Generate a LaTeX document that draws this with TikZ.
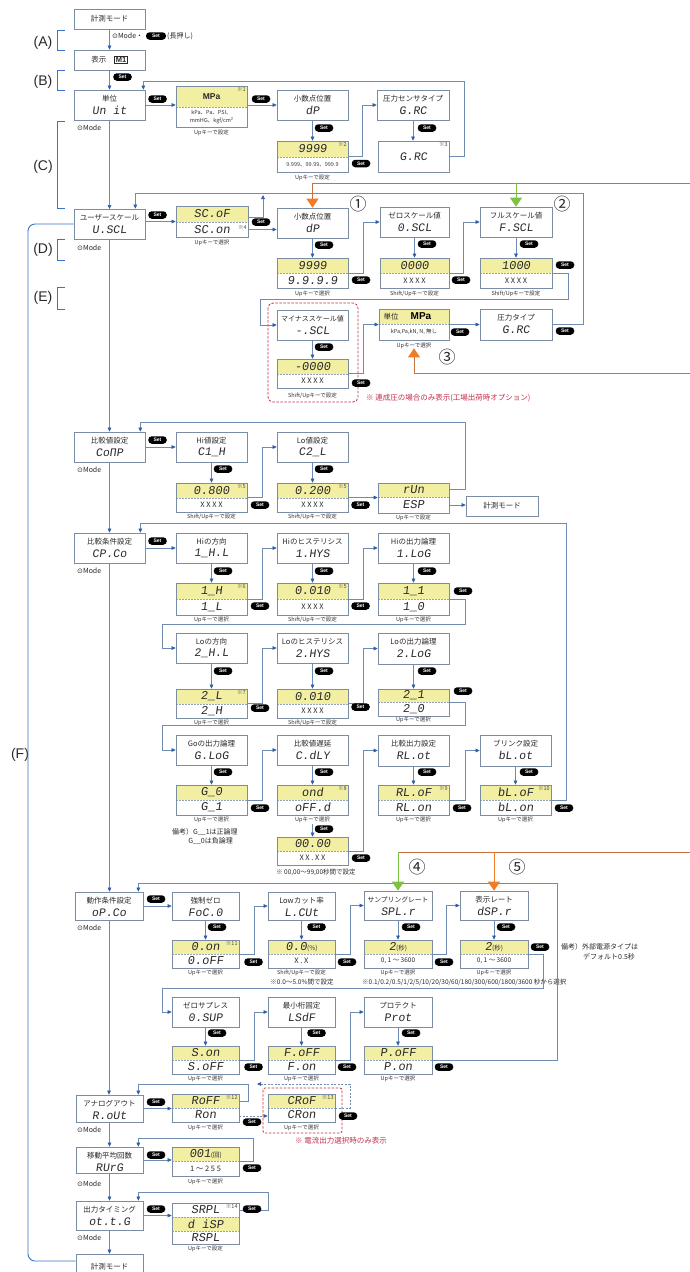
\documentclass[tikz,border=0pt]{standalone}
\usepackage{fontspec}
\setmainfont{Noto Sans CJK JP}
\newfontfamily\segf[FakeSlant=0.14]{Liberation Mono}
\newfontfamily\djv{DejaVu Sans}
\newfontfamily\lib{Liberation Sans}
\usetikzlibrary{arrows.meta,calc}
\definecolor{frm}{HTML}{7A8DA2}
\definecolor{lc}{HTML}{6F8CB0}
\definecolor{ac}{HTML}{2E5EA8}
\definecolor{yel}{HTML}{F3EFA2}
\definecolor{fb}{HTML}{3B72C8}
\definecolor{org}{HTML}{F07C28}
\definecolor{orl}{HTML}{C47245}
\definecolor{grn}{HTML}{7DC242}
\definecolor{rd}{HTML}{C2304A}
\definecolor{tx}{HTML}{2A2A2A}
\newcounter{nn}
\tikzset{
 bfr/.style={draw=frm,line width=0.7pt,inner sep=0pt,rectangle},
 ttl/.style={inner sep=0pt,text=tx,font=\fontsize{7.5}{7.5}\selectfont},
 txtsev/.style={inner sep=0pt,text=tx,font=\fontsize{7.5}{7.5}\selectfont},
 segt/.style={inner sep=0pt,text=tx,font=\segf\fontsize{11.5}{11.5}\selectfont},
 segv/.style={inner sep=0pt,text=tx,font=\segf\fontsize{12}{12}\selectfont},
 notet/.style={inner sep=1.2pt,text=black!70,font=\fontsize{5.5}{5.5}\selectfont},
 ln/.style={draw=lc,line width=0.6pt},
 arr/.style={ln,-{Triangle[length=4pt,width=3.6pt,color=ac]}},
 arrd/.style={arr,dashed,dash pattern=on 2pt off 1.5pt},
 sepl/.style={draw=frm!80,dash pattern=on 2pt off 1pt,line width=0.5pt},
 setpill/.style={fill=black,rounded corners=3.5pt,minimum width=18.5pt,minimum height=7.5pt,inner sep=0pt,text=white,font=\lib\bfseries\fontsize{5}{5}\selectfont},
 uplab/.style={inner sep=0pt,text=black!80,font=\fontsize{5.5}{5.5}\selectfont},
 smtxt/.style={inner sep=0pt,text=tx,font=\fontsize{6.5}{6.5}\selectfont},
 modet/.style={inner sep=0pt,text=tx,font=\fontsize{7}{7}\selectfont},
 bikou/.style={inner sep=0pt,text=tx,font=\fontsize{7}{9}\selectfont},
 brk/.style={draw=fb,line width=0.8pt},
 lett/.style={inner sep=0pt,text=tx,font=\lib\fontsize{14}{14}\selectfont},
 circn/.style={inner sep=0pt,text=tx,font=\fontsize{17}{17}\selectfont},
 oline/.style={draw=orl,line width=1pt},
 otip/.style={-{Triangle[length=9pt,width=12pt,color=org]}},
 gtip/.style={draw=grn,line width=1pt,-{Triangle[length=9pt,width=12pt,color=grn]}},
 reddash/.style={draw=rd,dash pattern=on 2.5pt off 1.5pt,line width=0.8pt,rounded corners=5pt},
 redtxt/.style={inner sep=0pt,text=rd,font=\fontsize{7.5}{7.5}\selectfont},
 fline/.style={draw=fb,line width=0.9pt}
}
\newcommand\xx[1]{{\normalfont\fontsize{7.5}{7.5}\selectfont #1}}
\newcommand\sm[1]{{\normalfont\fontsize{6.5}{6.5}\selectfont #1}}
\newcommand\lbx[7]{%
 \node[bfr,minimum width=#4-#2,minimum height=#5-#3] (#1) at ({(#2+#4)/2},{(#3+#5)/2}) {};
 \node[ttl] (#1t) at ({(#2+#4)/2},{#3+8.5}) {#6};
 \node[segt] (#1c) at ({(#2+#4)/2},{#3+20.5}) {#7};}
\newcommand\sbx[6]{\node[bfr,txtsev,minimum width=#4-#2,minimum height=#5-#3] (#1) at ({(#2+#4)/2},{(#3+#5)/2}) {#6};}
\newcommand\valbox[9]{%
 \fill[yel] (#2,#3) rectangle (#4,#5);
 \draw[sepl] (#2,#5) -- (#4,#5);
 \node[bfr,minimum width=#4-#2,minimum height=#6-#3] (#1) at ({(#2+#4)/2},{(#3+#6)/2}) {};
 \node[segv] (#1t) at ({(#2+#4)/2},{(#3+#5)/2}) {#7};
 \node[segv] (#1b) at ({(#2+#4)/2},{(#5+#6)/2}) {#8};
 \node[notet,anchor=north east] (#1n) at (#4,#3) {#9};}
\newcommand\setp[2]{\stepcounter{nn}\node[setpill] (sp\thenn) at (#1,#2) {Set};}
\newcommand\lab[3]{\stepcounter{nn}\node[uplab] (lb\thenn) at (#1,#2) {#3};}
\newcommand\modl[2]{\stepcounter{nn}\node[modet,anchor=west] (md\thenn) at (#1,#2) {{\djv ⊙}Mode};}
\begin{document}
\begin{tikzpicture}[x=1pt,y=-1pt]
\useasboundingbox[fill=white] (0,0) rectangle (690,1272);
% ---------- labels A-F
\node[lett] (lA) at (43,43) {(A)}; \draw[brk] (65,30) -- (57,30) -- (57,50) -- (65,50);
\node[lett] (lB) at (43,82) {(B)}; \draw[brk] (65,70) -- (57,70) -- (57,90) -- (65,90);
\node[lett] (lC) at (43,167) {(C)}; \draw[brk] (65,121) -- (57,121) -- (57,208) -- (65,208);
\node[lett] (lD) at (43,250) {(D)}; \draw[brk] (65,239) -- (57,239) -- (57,260) -- (65,260);
\node[lett] (lE) at (43,298) {(E)}; \draw[brk] (65,287) -- (57,287) -- (57,309) -- (65,309);
\node[lett] (lF) at (20,755) {(F)};
% ---------- section 1
\sbx{mode0}{74}{9}{145}{29}{計測モード}
\sbx{disp}{74}{50}{145}{70}{表示\hspace{8pt}{\fboxsep=0.8pt\fboxrule=0.7pt\fbox{\lib\bfseries M1}}}
\lbx{unit}{74}{90}{145}{120}{単位}{Un it}
\valbox{mpa}{176}{86}{247}{107}{127}{{\lib\bfseries\fontsize{8.5}{8.5}\selectfont MPa}}{}{※1}
\node[uplab,align=center,font=\fontsize{5.5}{8}\selectfont] (mpalist) at (211.5,117) {kPa、Pa、PSI、\\mmHG、kgf/cm²};
\lab{211.5}{132.5}{Upキーで設定}
\lbx{dp1}{277}{90}{348}{120}{小数点位置}{dP}
\valbox{dnine}{277}{141}{348}{157}{172}{9999}{}{※2}
\node[uplab] (dninelist) at (312.5,165) {9.999、99.99、999.9};
\lab{312.5}{178}{Upキーで設定}
\lbx{gac1}{377}{90}{449}{120}{圧力センサタイプ}{G.RC}
\node[bfr,segt,minimum width=71,minimum height=31] (gac2) at (413.5,156.5) {G.RC};
\node[notet,anchor=north east] (gac2n) at (449,141) {※3};
\node[modet,anchor=west] (modeA) at (112,36) {{\djv ⊙}Mode・};
\node[setpill,minimum width=20pt] (setA) at (156,36) {Set};
\node[modet,anchor=west] (nagA) at (167,36) {(長押し)};
\draw[arr] (mode0.south) -- (disp.north);
\draw[arr] (disp.south) -- (unit.north); \setp{122.5}{77}
\draw[arr] (unit.east) -- (unit.east -| mpa.west); \setp{157.5}{99}
\draw[arr] (mpa.east |- dp1.west) -- (dp1.west); \setp{261}{99}
\draw[arr] (dp1.south) -- (dnine.north); \setp{324}{128}
\draw[arr] (dnine.east) -- ++(14,0) |- (gac1.west); \setp{361}{163.5}
\draw[arr] (gac1.south) -- (gac1.south |- gac2.north); \setp{427}{128}
\draw[arr] (gac2.east) -| (464,81) -| ([xshift=-2pt]unit.north east);
\draw[arr] (unit.south) -- (unit.south |- 0,209); \modl{77}{128}
% ---------- section 2
\lbx{uscl}{74}{209}{145}{239}{ユーザースケール}{U.SCL}
\valbox{scof}{176}{206}{248}{222}{237}{SC.oF}{SC.on\hspace{10pt}}{}
\node[notet,anchor=east] (scof4) at (248,227) {※4};
\lab{212}{243}{Upキーで選択}
\lbx{dp2}{277}{208}{348}{238}{小数点位置}{dP}
\valbox{dtwo}{277}{258}{348}{273}{288}{9999}{9.9.9.9}{}
\lab{312.5}{294}{Upキーで選択}
\lbx{zscl}{380}{207}{449}{237}{ゼロスケール値}{0.SCL}
\valbox{zzero}{380}{258}{449}{273}{288}{0000}{\xx{X X X X}}{}
\lab{414.5}{294}{Shift/Upキーで設定}
\lbx{fscl}{480}{207}{552}{237}{フルスケール値}{F.SCL}
\valbox{fthou}{480}{258}{552}{273}{288}{1000}{\xx{X X X X}}{}
\lab{516}{294}{Shift/Upキーで設定}
\lbx{mscl}{277}{310}{348}{340}{{\fontsize{7}{7}\selectfont マイナススケール値}}{-.SCL}
\valbox{mzero}{277}{359}{348}{374}{388}{-0000}{\xx{X X X X}}{}
\lab{312.5}{396}{Shift/Upキーで設定}
\valbox{sunit}{379}{309}{449}{324}{340}{}{}{}
\node[ttl] (sunitA) at (391,316.5) {単位};
\node[inner sep=0pt,font=\lib\bfseries\fontsize{10}{10}\selectfont] (sunitB) at (421,316.5) {MPa};
\node[uplab] (sunitC) at (414,332) {kPa,Pa,kN, N, 無し};
\lab{414}{345.5}{Upキーで選択}
\lbx{atype}{480}{309}{552}{340}{圧力タイプ}{G.RC}
\draw[reddash] (268,303) rectangle (358,402);
\node[redtxt,anchor=west] (rednote1) at (366,398.5) {※ 連成圧の場合のみ表示(工場出荷時オプション)};
\draw[arr] (scof.west -| uscl.east) -- (scof.west); \setp{157.5}{215}
\draw[arr] ([yshift=4pt]scof.east) -| (263,195);
\draw[arr] ([yshift=-8pt]scof.east) -- ([yshift=-8pt]scof.east -| dp2.west); \setp{261}{222}
\draw[arr] (dp2.south) -- (dtwo.north); \setp{324}{245}
\draw[arr] (dtwo.east) -- ++(15,0) |- (zscl.west); \setp{361}{280}
\draw[arr] (zscl.south) -- (zzero.north); \setp{427}{244}
\draw[arr] (zzero.east) -- ++(14,0) |- (fscl.west); \setp{461}{280}
\draw[arr] (fscl.south) -- (fthou.north); \setp{529}{244}
\draw[arr] (fthou.east) -| (568,299) -| (260,325) -- (mscl.west); \setp{565}{265}
\draw[arr] (mscl.south) -- (mzero.north); \setp{324}{347}
\draw[arr] (mzero.east) -- ++(15,0) |- (sunit.west); \setp{361}{383}
\draw[arr] (sunit.east) -- (sunit.east -| atype.west); \setp{460}{332}
\draw[arr] (atype.east) -| (583,193) -| ([xshift=-10pt]uscl.north east); \setp{565}{331}
\coordinate (oA) at (690,183);
\draw[oline,otip] (oA) -| (dp2.north);
\draw[gtip] (fscl.north |- oA) -- (fscl.north);
\node[circn] (c1) at (358,204) {①};
\node[circn] (c2) at (562,204) {②};
\coordinate (oB) at (690,373);
\draw[oline,otip] (oB) -| ([yshift=-8pt]sunit.south);
\node[circn] (c3) at (447,357) {③};
\modl{77}{248}
% ---------- section 3
\lbx{comp}{74}{432}{145}{462}{比較値設定}{CoΠP}
\lbx{hi}{176}{432}{247}{462}{Hi値設定}{C1\_H}
\valbox{hiv}{176}{483}{247}{498}{512}{0.800}{\xx{X X X X}}{※5}
\lab{211.5}{517}{Shift/Upキーで設定}
\lbx{lo}{277}{432}{348}{462}{Lo値設定}{C2\_L}
\valbox{lov}{277}{483}{348}{498}{512}{0.200}{\xx{X X X X}}{※5}
\lab{312.5}{517}{Shift/Upキーで設定}
\valbox{run}{378}{483}{449}{497}{513}{rUn}{ESP}{}
\lab{413.5}{518}{Upキーで設定}
\sbx{mode1}{466}{496}{538}{516}{計測モード}
\draw[arr] (uscl.south) -- (uscl.south |- comp.north);
\draw[arr] (comp.east) -- (hi.west); \setp{157.5}{440}
\draw[arr] (hi.south) -- (hiv.north); \setp{223}{469}
\draw[arr] (hiv.east) -- ++(15,0) |- (lo.west); \setp{260}{505}
\draw[arr] (lo.south) -- (lov.north); \setp{324}{469}
\draw[arr] (lov.east) -- (lov.east -| run.west); \setp{360.5}{505}
\draw[arr] ([yshift=9pt]run.east) -| (465,422) -| ([xshift=-5pt]comp.north east);
\draw[arr] ([yshift=-7pt]run.east) -- ([yshift=-7pt]run.east -| mode1.west);
\modl{77}{470}
% ---------- section 4
\lbx{cpco}{74}{533}{145}{563}{比較条件設定}{CP.Co}
\lbx{hd}{176}{533}{247}{563}{Hiの方向}{1\_H.L}
\valbox{hdv}{176}{583}{247}{599}{615}{1\_H}{1\_L}{※6}
\lab{211.5}{620}{Upキーで選択}
\lbx{hh}{277}{533}{348}{563}{Hiのヒステリシス}{1.HYS}
\valbox{hhv}{277}{583}{348}{599}{615}{0.010}{\xx{X X X X}}{※5}
\lab{312.5}{620}{Shift/Upキーで設定}
\lbx{hl}{378}{533}{449}{563}{Hiの出力論理}{1.LoG}
\valbox{hlv}{378}{583}{449}{599}{615}{1\_1}{1\_0}{}
\lab{413.5}{620}{Upキーで選択}
\lbx{ld}{176}{633}{247}{663}{Loの方向}{2\_H.L}
\valbox{ldv}{176}{689}{247}{704}{718}{2\_L}{2\_H}{※7}
\lab{211.5}{723}{Upキーで選択}
\lbx{lh}{277}{633}{348}{663}{Loのヒステリシス}{2.HYS}
\valbox{lhv}{277}{689}{348}{704}{718}{0.010}{\xx{X X X X}}{}
\lab{312.5}{723}{Shift/Upキーで設定}
\lbx{ll}{378}{633}{449}{664}{Loの出力論理}{2.LoG}
\valbox{llv}{378}{689}{449}{702}{716}{2\_1}{2\_0}{}
\lab{413.5}{720}{Upキーで選択}
\lbx{gl}{176}{735}{247}{765}{Goの出力論理}{G.LoG}
\valbox{glv}{176}{785}{247}{800}{815}{G\_0}{G\_1}{}
\lab{211.5}{820}{Upキーで選択}
\lbx{cd}{277}{735}{348}{765}{比較値遅延}{C.dLY}
\valbox{cdv}{277}{785}{348}{800}{815}{ond}{oFF.d}{※8}
\lab{312.5}{820}{Upキーで選択}
\valbox{cdtime}{277}{837}{348}{851}{865}{00.00}{\xx{X X . X X}}{}
\node[smtxt,anchor=west] (cdtnote) at (276,872) {※ 00,00〜99,00秒間で設定};
\lbx{al}{378}{735}{449}{766}{比較出力設定}{RL.ot}
\valbox{alv}{378}{785}{449}{800}{815}{RL.oF}{RL.on}{※9}
\lab{413.5}{820}{Upキーで選択}
\lbx{bl}{480}{735}{551}{766}{ブリンク設定}{bL.ot}
\valbox{blv}{480}{785}{551}{800}{815}{bL.oF}{bL.on}{※10}
\lab{515.5}{820}{Upキーで選択}
\node[bikou,anchor=north west,align=left] (bk1) at (172,828) {備考）G\_\_1は正論理\\\hspace{2.3em}G\_\_0は負論理};
\draw[arr] (comp.south) -- (comp.south |- cpco.north);
\draw[arr] (cpco.east) -- (hd.west); \setp{157.5}{541}
\draw[arr] (hd.south) -- (hdv.north); \setp{223}{571}
\draw[arr] (hdv.east) -- ++(15,0) |- (hh.west); \setp{260}{606}
\draw[arr] (hh.south) -- (hhv.north); \setp{324}{571}
\draw[arr] (hhv.east) -- ++(15,0) |- (hl.west); \setp{360.5}{606}
\draw[arr] (hl.south) -- (hlv.north); \setp{427}{571}
\draw[arr] (hlv.east) -| (465,624) -| (162,648) -- (ld.west); \setp{463}{591}
\draw[arr] (ld.south) -- (ldv.north); \setp{223}{671}
\draw[arr] (ldv.east) -- ++(15,0) |- (lh.west); \setp{260}{708}
\draw[arr] (lh.south) -- (lhv.north); \setp{324}{671}
\draw[arr] (lhv.east) -- ++(15,0) |- (ll.west); \setp{360.5}{707}
\draw[arr] (ll.south) -- (llv.north); \setp{427}{671}
\draw[arr] (llv.east) -| (465,725) -| (162,750) -- (gl.west); \setp{463}{691}
\draw[arr] (gl.south) -- (glv.north); \setp{223}{772}
\draw[arr] (glv.east) -- ++(15,0) |- (cd.west); \setp{260}{808}
\draw[arr] (cd.south) -- (cdv.north); \setp{324}{772}
\draw[arr] ([yshift=-9pt]cdv.south) -- (cdtime.north); \setp{324}{829}
\draw[arr] (cdtime.east) -- ++(15,0) |- (al.west); \setp{361}{858}
\draw[arr] (al.south) -- (alv.north); \setp{427}{772}
\draw[arr] (alv.east) -- ++(16,0) |- (bl.west); \setp{462}{808}
\draw[arr] (bl.south) -- (blv.north); \setp{529}{772}
\draw[arr] (blv.east) -| (566,523) -| ([xshift=-5pt]cpco.north east); \setp{564}{808}
\modl{77}{571}
% ---------- section 5
\lbx{opco}{75}{892}{143}{920}{動作条件設定}{oP.Co}
\lbx{foc}{172}{892}{239}{920}{強制ゼロ}{FoC.0}
\valbox{focv}{172}{940}{239}{954}{968}{0.on}{0.oFF}{※11}
\lab{205.5}{973}{Upキーで選択}
\lbx{lcut}{268}{892}{335}{920}{Lowカット率}{L.CUt}
\valbox{lcutv}{268}{940}{335}{954}{968}{0.0\sm{(\%)}}{\xx{X . X}}{}
\lab{301.5}{973}{Shift/Upキーで設定}
\node[smtxt] (lcutnote) at (302,982) {※0.0〜5.0\%間で設定};
\lbx{spl}{364}{891}{432}{920}{{\fontsize{6.8}{6.8}\selectfont サンプリングレート}}{SPL.r}
\valbox{splv}{364}{940}{432}{954}{968}{2\sm{(秒)}}{\sm{0, 1 〜 3600}}{}
\lab{398}{973}{Upキーで選択}
\lbx{dsp}{460}{891}{528}{920}{表示レート}{dSP.r}
\valbox{dspv}{460}{940}{528}{954}{968}{2\sm{(秒)}}{\sm{0, 1 〜 3600}}{}
\lab{494}{973}{Upキーで選択}
\node[bikou,anchor=west] (bk2) at (561,947) {備考）外部電源タイプは};
\node[bikou,anchor=west] (bk3) at (583,957) {デフォルト0.5秒};
\node[smtxt,anchor=west] (splnote) at (362,982.5) {※0.1/0.2/0.5/1/2/5/10/20/30/60/180/300/600/1800/3600 秒から選択};
\lbx{zsup}{172}{997}{239}{1027}{ゼロサプレス}{0.SUP}
\valbox{zsupv}{172}{1046}{239}{1060}{1074}{S.on}{S.oFF}{}
\lab{205.5}{1079}{Upキーで選択}
\lbx{lsdf}{268}{997}{335}{1027}{最小桁固定}{LSdF}
\valbox{lsdfv}{268}{1046}{335}{1060}{1074}{F.oFF}{F.on}{}
\lab{301.5}{1079}{Upキーで選択}
\lbx{prot}{364}{997}{432}{1027}{プロテクト}{Prot}
\valbox{protv}{364}{1046}{432}{1060}{1074}{P.oFF}{P.on}{}
\lab{398}{1079}{Upキーで選択}
\draw[arr] (cpco.south) -- (cpco.south |- opco.north);
\draw[arr] (opco.east) -- (foc.west); \setp{156}{899}
\draw[arr] (foc.south) -- (focv.north); \setp{217}{927}
\draw[arr] (focv.east) -- ++(15,0) |- (lcut.west); \setp{253.5}{962}
\draw[arr] (lcut.south) -- (lcutv.north); \setp{316.5}{927}
\draw[arr] (lcutv.east) -- ++(15,0) |- (spl.west); \setp{347}{962}
\draw[arr] (spl.south) -- (spl.south |- splv.north); \setp{411}{927}
\draw[arr] (splv.east) -- ++(14,0) |- (dsp.west); \setp{444}{962}
\draw[arr] (dsp.south) -- (dsp.south |- dspv.north); \setp{506}{927}
\draw[arr] (dspv.east) -| (543,988) -| (162,1012) -- (zsup.west); \setp{540}{947}
\draw[arr] (zsup.south) -- (zsupv.north); \setp{217}{1033}
\draw[arr] (zsupv.east) -- ++(15,0) |- (lsdf.west); \setp{253.5}{1067}
\draw[arr] (lsdf.south) -- (lsdfv.north); \setp{316.5}{1033}
\draw[arr] (lsdfv.east) -- ++(15,0) |- (prot.west); \setp{347}{1067}
\draw[arr] (prot.south) -- (protv.north); \setp{411}{1033}
\draw[arr] (protv.east) -| (557,883) -| ([xshift=-5pt]opco.north east); \setp{444}{1067}
\coordinate (oC) at (690,852);
\draw[oline] (oC) -- (spl.north |- oC);
\draw[gtip] (spl.north |- oC) -- (spl.north);
\draw[oline,draw=org,otip] (dsp.north |- oC) -- (dsp.north);
\node[circn] (c4) at (417,867) {④};
\node[circn] (c5) at (517,867) {⑤};
\modl{77}{928}
% ---------- section 6
\lbx{aout}{76}{1095}{143}{1122}{アナログアウト}{R.oUt}
\valbox{aoutv}{172}{1094}{239}{1108}{1122}{RoFF}{Ron}{※12}
\lab{205.5}{1128}{Upキーで選択}
\valbox{croutv}{268}{1094}{335}{1108}{1122}{CRoF}{CRon}{※13}
\lab{301.5}{1128}{Upキーで選択}
\draw[reddash,rounded corners=2pt] (263,1088) rectangle (342,1133);
\node[redtxt,anchor=west] (rednote2) at (295,1141) {※ 電流出力選択時のみ表示};
\lbx{avg}{76}{1147}{143}{1173}{移動平均回数}{RUrG}
\valbox{avgv}{172}{1147}{239}{1161}{1176}{001\sm{(回)}}{\xx{1 〜 2 5 5}}{}
\lab{205.5}{1182}{Upキーで選択}
\lbx{ottg}{76}{1201}{143}{1230}{出力タイミング}{ot.t.G}
\fill[yel] (172,1217) rectangle (239,1231);
\draw[sepl] (172,1217) -- (239,1217);
\draw[sepl] (172,1231) -- (239,1231);
\node[bfr,minimum width=67,minimum height=41] (ottgv) at (205.5,1223.5) {};
\node[segv] (ottga) at (205.5,1210) {SRPL};
\node[notet,anchor=north east] (ottgn) at (239,1203) {※14};
\node[segv] (ottgb) at (205.5,1224) {d iSP};
\node[segv] (ottgc) at (205.5,1237.5) {RSPL};
\lab{205.5}{1249}{Upキーで設定}
\sbx{mode2}{76}{1254}{143}{1280}{計測モード}
\draw[arr] (opco.south) -- (opco.south |- aout.north);
\draw[arr] (aout.east) -- (aout.east -| aoutv.west); \setp{156}{1102}
\draw[arr] ([yshift=7pt]aoutv.east) -| (248,1084) -| ([xshift=-5pt]aout.north east);
\draw[arrd] ([yshift=-8pt]aoutv.east) -- ([yshift=-8pt]aoutv.east -| croutv.west); \setp{252}{1122}
\draw[arrd] (croutv.east) -| (350,1084) -- (257,1084); \setp{348}{1116}
\draw[arr] (aout.south) -- (aout.south |- avg.north);
\draw[arr] (avg.east) -- (avg.east -| avgv.west); \setp{156}{1155}
\draw[arr] (avgv.east) -| (253,1138) -| ([xshift=-5pt]avg.north east); \setp{252}{1168}
\draw[arr] (avg.south) -- (avg.south |- ottg.north);
\draw[arr] (ottg.east) -- (ottg.east -| ottgv.west); \setp{156}{1209}
\draw[arr] (ottga.east -| ottgv.east) -| (268,1192) -| ([xshift=-5pt]ottg.north east); \setp{252}{1209}
\draw[arr] (ottg.south) -- (ottg.south |- mode2.north);
\modl{77}{1130}
\modl{77}{1184}
\modl{77}{1238}
\draw[fline,rounded corners=7pt] (uscl.west) -| (28,1261) -- (mode2.west |- 28,1261);
\end{tikzpicture}
\end{document}
